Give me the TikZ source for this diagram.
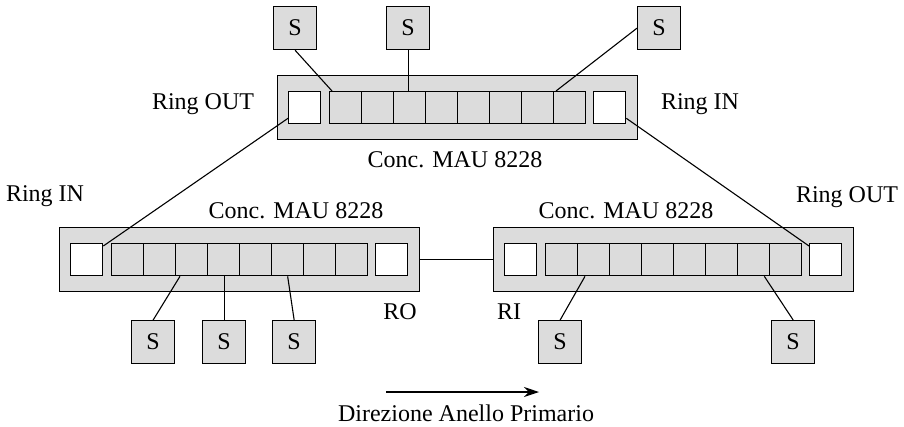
\documentclass[tikz,border=0pt]{standalone}
\usepackage{fontspec}
\setmainfont{Liberation Serif}
\usetikzlibrary{arrows.meta}
\definecolor{boxgray}{HTML}{DCDCDC}
\begin{document}
\begin{tikzpicture}[x=1pt,y=-1pt,
  every node/.style={font=\fontsize{24}{28}\selectfont},
  conc/.style={draw, fill=boxgray, line width=1.3pt, minimum width=360pt, minimum height=64pt, inner sep=0pt, anchor=north west},
  ringport/.style={draw, fill=white, line width=1.3pt, minimum width=32pt, minimum height=32pt, inner sep=0pt, anchor=north west},
  portbox/.style={draw, fill=boxgray, line width=1.3pt, minimum width=32pt, minimum height=32pt, inner sep=0pt, anchor=north west},
  station/.style={draw, fill=boxgray, line width=1.3pt, minimum width=43pt, minimum height=43pt, inner sep=0pt, anchor=north west},
  link/.style={line width=1.1pt},
  lbl/.style={inner sep=0pt}]
\useasboundingbox (0,0) rectangle (904,426);
% concentrators
\foreach \n/\x/\y in {T/277/75, L/59/227, R/493/227}{
  \node[conc] (\n) at (\x,\y) {};
  \node[ringport] (\n-w) at ({\x+11},{\y+16}) {};
  \node[ringport] (\n-e) at ({\x+316},{\y+16}) {};
  \foreach \k in {1,...,8}
    \node[portbox] (\n-p\k) at ({\x+52+32*(\k-1)},{\y+16}) {};
}
% stations
\node[station] (s1) at (273,6) {S};
\node[station] (s2) at (386,6) {S};
\node[station] (s3) at (637,6) {S};
\node[station] (b1) at (131,320) {S};
\node[station] (b2) at (202,320) {S};
\node[station] (b3) at (272,320) {S};
\node[station] (r1) at (538,320) {S};
\node[station] (r2) at (771,320) {S};
% station links
\draw[link] (s1.south) -- ([xshift=3pt]T-p1.north west);
\draw[link] (s2.south) -- (s2.south |- T-p3.north);
\draw[link] (s3.west) -- ([xshift=3pt]T-p8.north west);
\draw[link] (b1.north) -- ([xshift=5pt]L-p3.south west);
\draw[link] (b2.north) -- (b2.north |- L-p4.south);
\draw[link] (b3.north) -- (L-p6.south);
\draw[link] (r1.north) -- ([xshift=8pt]R-p2.south west);
\draw[link] (r2.north) -- ([xshift=-6pt]R-p7.south east);
% ring links
\draw[link] ([yshift=6pt]T-w.south west) -- ([yshift=-3pt]L-w.north east);
\draw[link] ([yshift=6pt]T-e.south east) -- ([yshift=-3pt]R-e.north west);
\draw[link] (L.east) -- (R.west);
% labels
\node[lbl] (lro) at (203,104) {Ring OUT};
\node[lbl] (lri) at (700,104) {Ring IN};
\node[lbl] (lct) at (455,160) {Conc. MAU 8228};
\node[lbl] (lcl) at (296,211) {Conc. MAU 8228};
\node[lbl] (lcr) at (626,211) {Conc. MAU 8228};
\node[lbl] (lri2) at (45,196) {Ring IN};
\node[lbl] (lro2) at (847,197) {Ring OUT};
\node[lbl] (ro) at (400,312) {RO};
\node[lbl] (ri) at (509,312) {RI};
% direction arrow
\coordinate (a1) at (386,392);
\coordinate (a2) at (539,392);
\draw[line width=1.1pt, -{Stealth[length=15pt,width=10pt]}] (a1) -- (a2);
\node[lbl] (dir) at (466,413) {Direzione Anello Primario};
\end{tikzpicture}
\end{document}
